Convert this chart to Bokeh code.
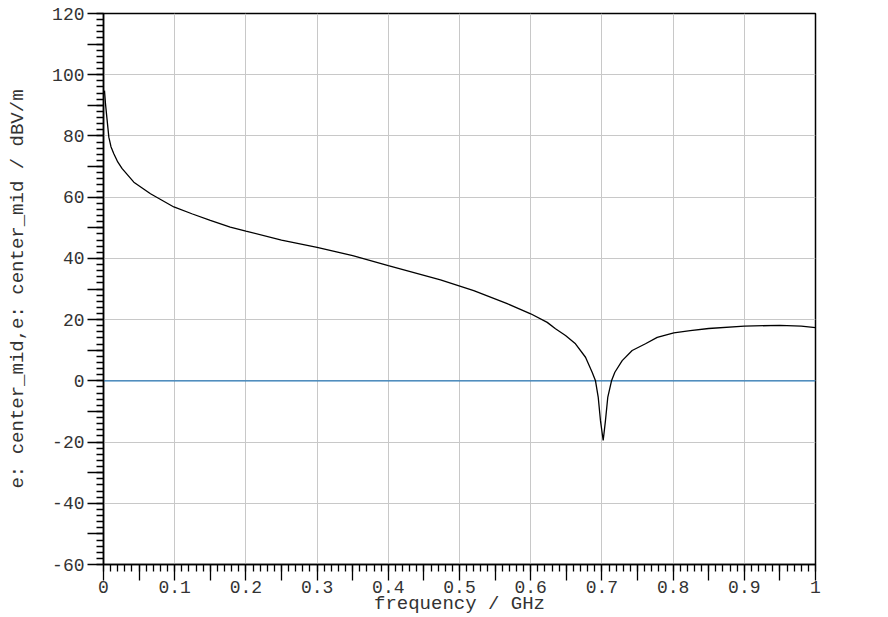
from bokeh.plotting import figure
from bokeh.models import Range1d, FixedTicker, CustomJSTickFormatter
from bokeh.embed import file_html
from bokeh.resources import INLINE

# E-field magnitude at center_mid (dBV/m) vs frequency (GHz)
freq_ghz = [0.0014, 0.0028, 0.0042, 0.0075, 0.0105, 0.0145, 0.02, 0.0262, 0.0426,
            0.066, 0.0988, 0.125, 0.15, 0.178, 0.2, 0.25, 0.3, 0.35, 0.4, 0.4733,
            0.52, 0.567, 0.6, 0.6232, 0.6348, 0.6489, 0.6629, 0.677, 0.6863, 0.691,
            0.6948, 0.698, 0.7018, 0.705, 0.7083, 0.7135, 0.7182, 0.7285, 0.7425,
            0.7612, 0.7777, 0.801, 0.824, 0.85, 0.9, 0.95, 0.98, 1.0]
e_center_mid = [94.8, 90.5, 87.2, 79.6, 76.5, 74.2, 71.5, 69.3, 64.9,
                61.1, 56.8, 54.5, 52.4, 50.2, 48.9, 46.0, 43.6, 40.9, 37.6, 33.0,
                29.5, 25.2, 21.9, 19.1, 17.0, 14.8, 12.1, 7.7, 2.8, 0.0,
                -5.3, -13.0, -19.5, -13.0, -5.3, 0.0, 2.8, 6.6, 9.9,
                12.1, 14.2, 15.7, 16.4, 17.1, 17.9, 18.1, 17.9, 17.4]
# second trace: reference level at 0 dBV/m
ref_freq = [0.0, 1.0]
ref_level = [0.0, 0.0]

x_major = [round(i * 0.05, 2) for i in range(21)]
x_minor = [round(i * 0.01, 2) for i in range(101)]
x_grid = [round(i * 0.1, 1) for i in range(11)]
y_major = list(range(-60, 121, 10))
y_minor = list(range(-60, 121, 2))
y_grid = list(range(-60, 121, 20))

FONT = "Liberation Mono"
TXT = "#333333"

p = figure(width=888, height=617, output_backend="svg", toolbar_location=None,
           x_range=Range1d(0, 1), y_range=Range1d(-60, 120),
           min_border_left=103, min_border_right=73, min_border_top=13,
           min_border_bottom=53, background_fill_color="white",
           border_fill_color="white")

p.outline_line_color = "black"
p.outline_line_width = 1.5

p.line(ref_freq, ref_level, line_color="#2a7ab8", line_width=1.2)
p.line(freq_ghz, e_center_mid, line_color="black", line_width=1.3)

p.xaxis.ticker = FixedTicker(ticks=x_major, minor_ticks=x_minor)
p.yaxis.ticker = FixedTicker(ticks=y_major, minor_ticks=y_minor)
p.xgrid.ticker = FixedTicker(ticks=x_grid)
p.ygrid.ticker = FixedTicker(ticks=y_grid)
p.xgrid.grid_line_color = "#c8c8c8"
p.ygrid.grid_line_color = "#c8c8c8"
p.xgrid.grid_line_width = 1
p.ygrid.grid_line_width = 1

p.xaxis.formatter = CustomJSTickFormatter(code="""
const v = Math.round(tick * 100);
if (v % 10 != 0) return "";
if (v == 0) return "0";
if (v == 100) return "1";
return (v / 100).toFixed(1);
""")
p.yaxis.formatter = CustomJSTickFormatter(code="""
const v = Math.round(tick);
if (v % 20 != 0) return "";
return String(v);
""")

for ax in (p.xaxis[0], p.yaxis[0]):
    ax.axis_line_color = "black"
    ax.axis_line_width = 1.5
    ax.major_tick_line_color = "black"
    ax.major_tick_line_width = 1.3
    ax.minor_tick_line_color = "black"
    ax.minor_tick_line_width = 1.3
    ax.major_tick_in = 0
    ax.minor_tick_in = 0
    ax.major_tick_out = 16
    ax.minor_tick_out = 7
    ax.major_label_text_font = FONT
    ax.major_label_text_font_size = "18px"
    ax.major_label_text_color = TXT
    ax.axis_label_text_font = FONT
    ax.axis_label_text_font_size = "19px"
    ax.axis_label_text_font_style = "normal"
    ax.axis_label_text_color = TXT

p.xaxis.axis_label = "frequency / GHz"
p.yaxis.axis_label = "e: center_mid,e: center_mid / dBV/m"
p.xaxis.major_label_standoff = 0
p.xaxis.axis_label_standoff = -3
p.yaxis.major_label_standoff = 3
p.yaxis.axis_label_standoff = 20

open("out.html", "w").write(file_html(p, INLINE))
